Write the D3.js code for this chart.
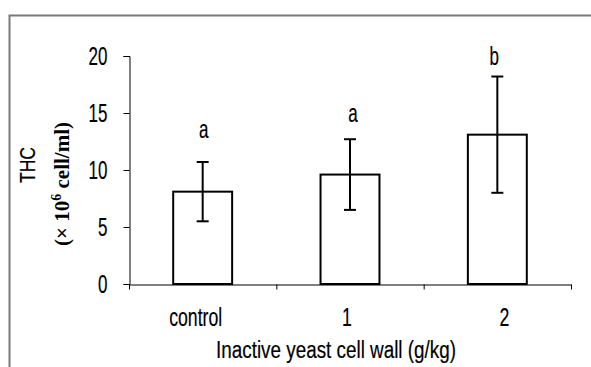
<!DOCTYPE html>
<html>
<head>
<meta charset="utf-8">
<script src="https://cdn.jsdelivr.net/npm/d3@7"></script>
<style>
  body { margin: 0; background: #fff; }
  text { font-family: "Liberation Sans", Arial, sans-serif; fill: #000; }
  .heavy { stroke: #000; stroke-width: 0.2px; }
</style>
</head>
<body>
<div id="chart"></div>
<script>
// data
let categories = ['control', '1', '2'];
let means = [8.1, 9.6, 13.1];
let errors = [2.6, 3.1, 5.1];
let letters = ['a', 'a', 'b'];
let letterAt = [12.8, 14.2, 19.2];   // baseline of the letter, in y units
let yTicks = [0, 5, 10, 15, 20];

let svgWidth = 591;
let svgHeight = 367;

let svg = d3.select('#chart').append('svg')
  .attr('width', svgWidth)
  .attr('height', svgHeight);

// condensed text: the original font is narrow, so squeeze Liberation Sans
function narrowText(parent, px, py, str, size, squeeze, anchor) {
  return parent.append('text')
    .classed('heavy', true)
    .attr('transform', `translate(${px},${py}) scale(${squeeze},1)`)
    .attr('text-anchor', anchor || 'middle')
    .style('font-size', size + 'px')
    .text(str);
}

// outer frame (top + left only visible)
svg.append('path')
  .attr('d', 'M9.5,367 V15.5 H591')
  .attr('fill', 'none')
  .attr('stroke', '#7a7a7a')
  .attr('stroke-width', 2);

// scales
let x = d3.scaleBand()
  .domain(categories)
  .range([129, 571])
  .padding(0);

let y = d3.scaleLinear()
  .domain([0, 20])
  .range([284, 56]);

let barWidth = x.bandwidth() * 0.4;

// y axis
let yAxis = svg.append('g')
  .attr('transform', 'translate(129.5,0)')
  .call(d3.axisLeft(y).tickValues(yTicks).tickSize(6).tickPadding(16));
yAxis.selectAll('path, line').attr('stroke', '#000').attr('stroke-width', 1);
yAxis.selectAll('text')
  .classed('heavy', true)
  .attr('x', -22 / 0.68)
  .attr('transform', 'scale(0.68,1)')
  .style('font-size', '25px')
  .style('font-family', '"Liberation Sans", Arial, sans-serif');

// x axis: ticks sit between the categories
let xEdges = d3.scaleLinear().domain([0, categories.length]).range(x.range());
let xAxis = svg.append('g')
  .attr('transform', 'translate(0,284.5)')
  .call(d3.axisBottom(xEdges).tickValues(d3.range(categories.length + 1)).tickFormat('').tickSize(5).tickSizeOuter(0));
xAxis.selectAll('path, line').attr('stroke', '#000').attr('stroke-width', 1);

// category labels (slightly off-centre in the original)
let catNudge = [-7, -3, 7];
categories.forEach(function(c, i) {
  narrowText(svg, x(c) + x.bandwidth() / 2 + catNudge[i], 326, c, 26, 0.68);
});

// bars
svg.selectAll('.bar')
  .data(means)
  .enter()
  .append('rect')
  .attr('class', 'bar')
  .attr('x', (d, i) => x(categories[i]) + (x.bandwidth() - barWidth) / 2)
  .attr('y', d => y(d))
  .attr('width', barWidth)
  .attr('height', d => y(0) - y(d))
  .attr('fill', '#fff')
  .attr('stroke', '#000')
  .attr('stroke-width', 2);

// error bars
let errGroup = svg.selectAll('.err')
  .data(means)
  .enter()
  .append('g')
  .attr('class', 'err')
  .attr('transform', (d, i) => `translate(${x(categories[i]) + x.bandwidth() / 2},0)`);

errGroup.append('line')
  .attr('x1', 0).attr('x2', 0)
  .attr('y1', (d, i) => y(d - errors[i]))
  .attr('y2', (d, i) => y(d + errors[i]));
errGroup.append('line')
  .attr('x1', -6).attr('x2', 6)
  .attr('y1', (d, i) => y(d + errors[i]))
  .attr('y2', (d, i) => y(d + errors[i]));
errGroup.append('line')
  .attr('x1', -6).attr('x2', 6)
  .attr('y1', (d, i) => y(d - errors[i]))
  .attr('y2', (d, i) => y(d - errors[i]));
errGroup.selectAll('line').attr('stroke', '#000').attr('stroke-width', 2);

// significance letters
let letterNudge = [1, 3, -3];
letters.forEach(function(l, i) {
  narrowText(svg, x(categories[i]) + x.bandwidth() / 2 + letterNudge[i], y(letterAt[i]), l, 25, 0.68);
});

// y axis title
svg.append('text')
  .classed('heavy', true)
  .attr('transform', 'translate(35,165) rotate(-90) scale(0.8,1)')
  .attr('text-anchor', 'middle')
  .style('font-size', '22px')
  .text('THC');

let unit = svg.append('text')
  .attr('transform', 'translate(69,184) rotate(-90)')
  .attr('text-anchor', 'middle')
  .style('font-family', '"Liberation Serif", "Times New Roman", serif')
  .style('font-weight', 'bold')
  .style('font-size', '21px');
unit.append('tspan').text('(\u00d7 10');
unit.append('tspan').attr('dy', -8).style('font-size', '14px').text('6');
unit.append('tspan').attr('dy', 8).text(' cell/ml)');

// x axis title
narrowText(svg, 336, 358, 'Inactive yeast cell wall (g/kg)', 23, 0.82);
</script>
</body>
</html>
